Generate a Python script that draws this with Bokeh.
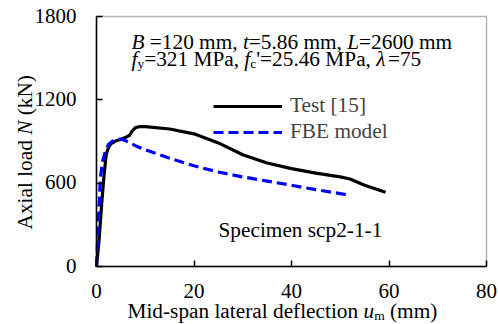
import math
from bokeh.plotting import figure
from bokeh.models import Range1d, FixedTicker, Label, Legend, LegendItem, BoxAnnotation
from bokeh.embed import file_html
from bokeh.resources import INLINE

# ---------------- data ----------------
test_x = [0, 0.5, 1.0, 1.5, 2.0, 2.5, 3.0, 4.0, 5.0, 6.0, 6.8, 7.3, 8.0, 9.0, 10, 15, 20, 25, 30, 35, 40, 45, 50, 52, 55, 59.3]
test_y = [0, 180, 420, 640, 810, 860, 885, 905, 915, 930, 945, 975, 1000, 1008, 1007, 990, 955, 890, 805, 745, 705, 672, 645, 630, 585, 535]

fbe_x = [0, 0.3, 0.8, 1.2, 1.85, 2.5, 3.6, 5.0, 6.0, 8.0, 10, 15, 20, 25, 30, 35, 40, 45, 50, 52.1]
fbe_y = [0, 250, 640, 750, 835, 880, 912, 918, 905, 870, 840, 780, 725, 680, 645, 615, 585, 553, 525, 511]

x_ticks = [0, 20, 40, 60, 80]
y_ticks = [0, 600, 1200, 1800]
x_tick_labels = ["0", "20", "40", "60", "80"]
y_tick_labels = ["0", "600", "1200", "1800"]
X_MIN, X_MAX = 0, 80
Y_MIN, Y_MAX = 0, 1800
legend_labels = ["Test [15]", "FBE model"]

FONT = "Liberation Serif"
FS = 21.3
SUB = 13.5
BASE_FIX = 8  # renderer draws "alphabetic" text this many px lower

# ---------------- figure ----------------
W, H = 498, 324
PL, PT, PR, PB = 96, 16, 486, 266  # plot-area edges in px
sx = (X_MAX - X_MIN) / (PR - PL)
sy = (Y_MAX - Y_MIN) / (PB - PT)

p = figure(width=W, height=H, output_backend="svg", toolbar_location=None,
           x_range=Range1d(X_MIN - PL * sx, X_MAX + (W - PR) * sx),
           y_range=Range1d(Y_MIN - (H - PB) * sy, Y_MAX + PT * sy),
           min_border=0, min_border_left=0, min_border_right=0,
           min_border_top=0, min_border_bottom=0)
p.background_fill_color = "white"
p.border_fill_color = "white"
p.grid.visible = False
p.outline_line_color = None

p.add_layout(BoxAnnotation(left=X_MIN, right=X_MAX, bottom=Y_MIN, top=Y_MAX,
                           fill_alpha=0, line_color="black", line_width=1.5))

xa, ya = p.xaxis[0], p.yaxis[0]
xa.fixed_location = Y_MIN
ya.fixed_location = X_MIN
xa.bounds = (X_MIN, X_MAX)
ya.bounds = (Y_MIN, Y_MAX)
xa.ticker = FixedTicker(ticks=x_ticks)
ya.ticker = FixedTicker(ticks=y_ticks)
xa.major_label_overrides = {t: "" for t in x_ticks}
ya.major_label_overrides = {t: "" for t in y_ticks}
for ax in (xa, ya):
    ax.minor_tick_line_color = None
    ax.major_tick_in = 6
    ax.major_tick_out = 0
    ax.major_tick_line_width = 1.5
    ax.axis_line_width = 1.5
    ax.axis_line_color = "black"
    ax.major_tick_line_color = "black"
    ax.major_label_text_font = FONT
    ax.major_label_text_font_size = "21px"

r_test = p.line(test_x, test_y, line_color="black", line_width=3.2)
r_fbe = p.line(fbe_x, fbe_y, line_color="#0000FF", line_width=3.2, line_dash="10 5")

legend = Legend(items=[LegendItem(label=legend_labels[0], renderers=[r_test]),
                       LegendItem(label=legend_labels[1], renderers=[r_fbe])],
                location=(213, H - 144), padding=0, margin=0, spacing=1,
                glyph_width=69, glyph_height=24, label_height=24, label_standoff=8,
                label_text_font=FONT, label_text_font_size=f"{FS}px",
                border_line_color=None, background_fill_alpha=0)
p.add_layout(legend, "center")

# ---------------- text helpers ----------------
REG = {' ': .25, '(': .333, ')': .333, ',': .25, '-': .333, '.': .25, "'": .18, '=': .564,
       'A': .722, 'B': .667, 'E': .611, 'F': .556, 'L': .611, 'M': .889, 'N': .722, 'P': .556,
       'S': .556, 'T': .611, '[': .333, ']': .333, 'a': .444, 'c': .444, 'd': .5, 'e': .444,
       'f': .333, 'i': .278, 'k': .5, 'l': .278, 'm': .778, 'n': .5, 'o': .5, 'p': .5, 'r': .333,
       's': .389, 't': .278, 'u': .5, 'x': .5, 'y': .5, 'λ': .55}
for d in "0123456789":
    REG[d] = .5
ITA = {'B': .611, 'N': .667, 'L': .556, 't': .278, 'f': .278, 'u': .5, 'λ': .55}


def width(text, italic, size):
    tbl = ITA if italic else REG
    return sum(tbl.get(c, REG.get(c, .5)) for c in text) * size


def xd(px):  # px -> data x
    return X_MIN + (px - PL) * sx


def yd(py):  # px -> data y
    return Y_MIN + (PB - py) * sy


def put(text, x_px, y_px, size=FS, italic=False, align="left", angle=0.0):
    p.add_layout(Label(x=xd(x_px), y=yd(y_px), text=text, angle=angle,
                       text_font=FONT, text_font_size=f"{size}px",
                       text_font_style="italic" if italic else "normal",
                       text_baseline="alphabetic", text_align=align,
                       text_color="black"))


def rich(segments, x0, y0, vertical=False):
    """segments: (text, italic, size, shift_px). x0,y0: baseline start in px."""
    pos = 0.0
    for text, italic, size, shift in segments:
        lead = len(text) - len(text.lstrip(" "))
        pos += width(" " * lead, italic, size)
        body = text.lstrip(" ")
        if vertical:
            put(body, x0 + shift - BASE_FIX, y0 - pos, size, italic, angle=math.pi / 2)
        else:
            put(body, x0 + pos, y0 + shift - BASE_FIX, size, italic)
        pos += width(body, italic, size)


# tick labels (serif), from the tick lists
for t, lab in zip(x_ticks, x_tick_labels):
    put(lab, PL + (t - X_MIN) / sx, 298 - BASE_FIX, 21, align="center")
for t, lab in zip(y_ticks, y_tick_labels):
    put(lab, 76, PB - (t - Y_MIN) / sy + 7 - BASE_FIX, 21, align="right")

# annotation block
rich([("B", True, FS, 0), (" =120 mm, ", False, FS, 0), ("t", True, FS, 0),
      ("=5.86 mm, ", False, FS, 0), ("L", True, FS, 0), ("=2600 mm", False, FS, 0)], 131, 49)
rich([("f", True, FS, 0), ("y", False, SUB, 5), ("=321 MPa, ", False, FS, 0), ("f", True, FS, 0),
      ("c", False, SUB, 5), ("'", False, FS, 0), ("=25.46 MPa, ", False, FS, 0),
      ("λ", True, FS, 0), ("=75", False, FS, 0)], 131, 66)

# specimen label
rich([("Specimen scp2-1-1", False, FS, 0)], 218, 237)

# axis titles
rich([("Mid-span lateral deflection ", False, FS, 0), ("u", True, FS, 0), ("m", False, SUB, 5),
      (" (mm)", False, FS, 0)], 127, 318)
rich([("Axial load ", False, FS, 0), ("N", True, FS, 0), (" (kN)", False, FS, 0)], 32, 229,
     vertical=True)

open("out.html", "w").write(file_html(p, INLINE))
